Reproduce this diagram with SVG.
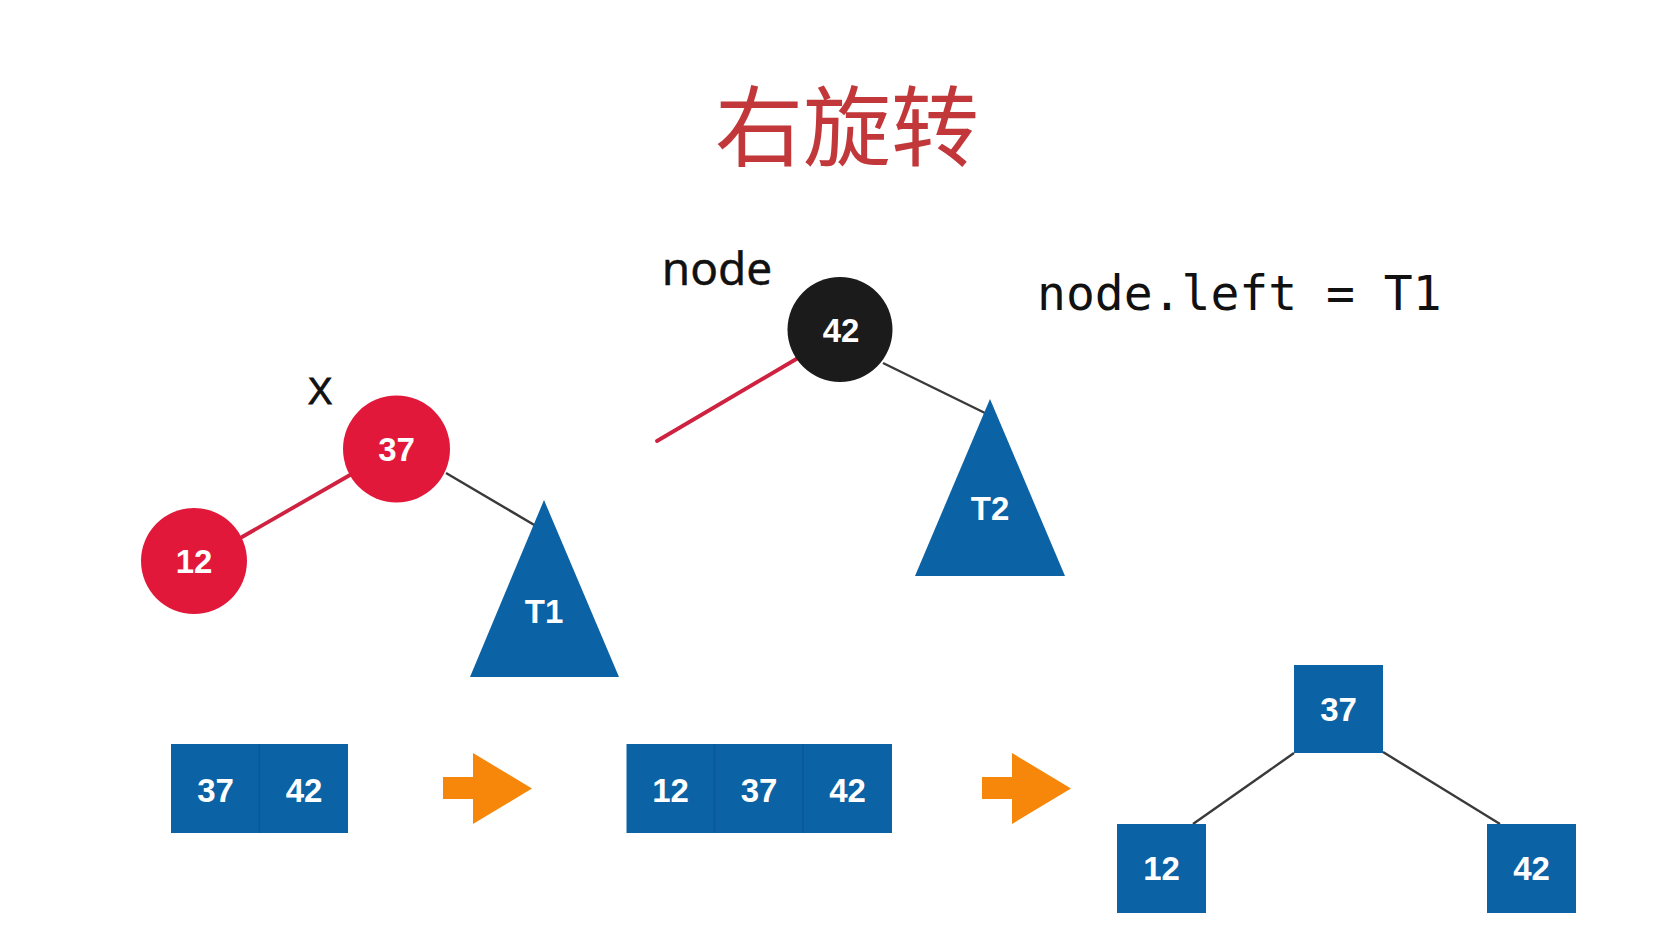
<svg xmlns="http://www.w3.org/2000/svg" width="1676" height="929" viewBox="0 0 1676 929">
<style>
.num{font-family:"Liberation Sans",Arial,sans-serif;font-weight:bold;fill:#ffffff;text-anchor:middle;font-size:33px}
.tri{fill:#0b62a4}
.box{fill:#0b62a4}
.div{stroke:#0a5897;stroke-width:1.5}
.red{fill:#e2183b}
.edge{stroke:#3a3a3a;stroke-width:2.4;fill:none}
.redge{stroke:#cf2140;stroke-width:3.8;fill:none;stroke-linecap:round}
.arrow{fill:#f7870b}
.mono{font-family:"DejaVu Sans Mono","Liberation Mono",monospace;font-size:48px;fill:#111}
</style>
<rect width="1676" height="929" fill="#ffffff"/>
<text id="title" x="847" y="159" font-family="Noto Sans CJK SC, sans-serif" font-size="88" fill="#c1373a" text-anchor="middle">右旋转</text>

<g id="connectors">
  <line class="redge" x1="242" y1="537" x2="350" y2="475"/>
  <line class="edge" x1="446" y1="473" x2="536" y2="526"/>
  <line class="redge" x1="657" y1="441" x2="798" y2="358"/>
  <line class="edge" x1="883" y1="363" x2="985" y2="413"/>
  <line class="edge" x1="1294" y1="753" x2="1193" y2="824"/>
  <line class="edge" x1="1383" y1="752" x2="1500" y2="824"/>
</g>

<g id="label-x"><text x="320" y="404" font-family="Liberation Sans, Arial, sans-serif" font-size="37" font-weight="500" fill="#111" text-anchor="middle" stroke="#111" stroke-width="0.8">X</text></g>
<g id="label-node"><text x="717" y="285" font-family="Noto Sans, Open Sans, sans-serif" font-size="46" fill="#111" text-anchor="middle" stroke="#111" stroke-width="0.4">node</text></g>
<g id="code"><text class="mono" x="1037" y="310">node.left = T1</text></g>

<g id="n37"><circle class="red" cx="396.5" cy="449" r="53.5"/><text class="num" x="396.5" y="461">37</text></g>
<g id="n12"><circle class="red" cx="194" cy="561" r="53"/><text class="num" x="194" y="573">12</text></g>
<g id="t1"><polygon class="tri" points="544,500 619,677 470,677"/><text class="num" x="544" y="623" font-size="31">T1</text></g>
<g id="n42"><circle cx="840" cy="329.5" r="52.5" fill="#1b1b1b"/><text class="num" x="841" y="342">42</text></g>
<g id="t2"><polygon class="tri" points="990,399 1065,576 915,576"/><text class="num" x="990" y="520" font-size="31">T2</text></g>

<g id="arr1"><rect class="box" x="171" y="744" width="177" height="89"/><line class="div" x1="259.5" y1="744" x2="259.5" y2="833"/><text class="num" x="215.5" y="802">37</text><text class="num" x="304" y="802">42</text></g>
<g id="arrow1"><polygon class="arrow" points="443,777 473,777 473,753 532,788.5 473,824 473,799 443,799"/></g>
<g id="arr2"><rect class="box" x="626.5" y="744" width="265.5" height="89"/><line class="div" x1="714.5" y1="744" x2="714.5" y2="833"/><line class="div" x1="803" y1="744" x2="803" y2="833"/><text class="num" x="670.5" y="802">12</text><text class="num" x="759" y="802">37</text><text class="num" x="847.5" y="802">42</text></g>
<g id="arrow2"><polygon class="arrow" points="982,777 1012,777 1012,753 1071,788.5 1012,824 1012,799 982,799"/></g>

<g id="b37"><rect class="box" x="1294" y="665" width="89" height="88"/><text class="num" x="1338.5" y="721">37</text></g>
<g id="b12"><rect class="box" x="1117" y="824" width="89" height="89"/><text class="num" x="1161.5" y="880">12</text></g>
<g id="b42"><rect class="box" x="1487" y="824" width="89" height="89"/><text class="num" x="1531.5" y="880">42</text></g>
</svg>
